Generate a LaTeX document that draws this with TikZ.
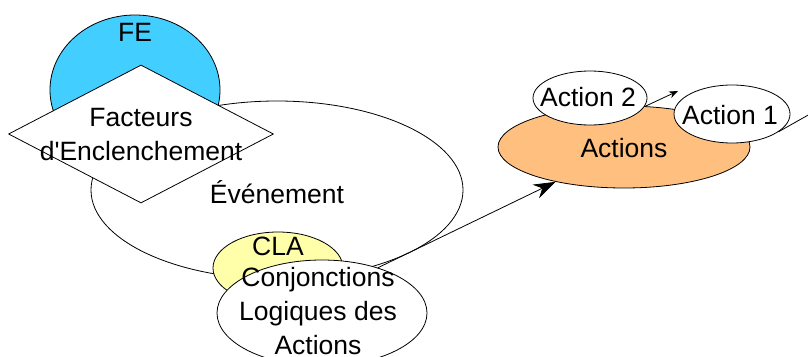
\documentclass[tikz,border=0pt]{standalone}
\usepackage{fontspec}
\setmainfont{Liberation Sans}
\usepackage{tikz}
\usetikzlibrary{arrows.meta,shapes.geometric}

\definecolor{azzurro}{RGB}{66,207,255}
\definecolor{giallino}{RGB}{255,255,170}
\definecolor{arancio}{RGB}{255,191,127}

\begin{document}
\begin{tikzpicture}[x=1pt, y=-1pt,
                % Forma ellittica vuota: il testo va in un nodo a parte
                ellisse/.style={
                    draw,
                    ellipse,
                    inner sep=0pt,
                    fill=white,
                    line width=0.8pt
                },
                % Rombo dei fattori
                rombo/.style={
                    draw,
                    diamond,
                    inner sep=0pt,
                    fill=white,
                    line width=0.8pt
                },
                % Stile dei testi
                testo/.style={
                    align=center,
                    inner sep=0pt,
                    font=\fontsize{26.5}{34}\selectfont
                },
                % Freccia grande verso le azioni
                freccia/.style={
                    -{Stealth[length=22pt, width=15pt]},
                    line width=0.8pt
                },
                % Freccia piccola tra le azioni
                freccina/.style={
                    -{Stealth[length=9pt, width=7pt]},
                    line width=0.8pt
                }
            ]

                \useasboundingbox (0,0) rectangle (808,356);

                % 1. Evento con FE e fattori d'innesco sopra
                \node [ellisse, minimum width=372pt, minimum height=178pt] (evento) at (277,190) {};
                \node [ellisse, fill=azzurro, minimum width=170pt, minimum height=150pt] (fe) at (135,90) {};
                \node [rombo, minimum width=265pt, minimum height=138pt] (fattori) at (141,134) {};
                \node [testo] (t-fe) at (135,32) {FE};
                \node [testo] (t-fattori) at (141,135) {Facteurs\\d\textquotesingle Enclenchement};
                \node [testo] (t-evento) at (277,192) {Événement};

                % 2. Congiunzioni logiche
                \node [ellisse, fill=giallino, minimum width=130pt, minimum height=72pt] (cla) at (278,268) {};
                \node [ellisse, minimum width=210pt, minimum height=106pt] (conj) at (322,313) {};
                \node [testo] (t-cla) at (278,246) {CLA};
                \node [testo] (t-conj) at (318,311) {Conjonctions\\Logiques des\\Actions};

                % 3. Azioni
                \node [ellisse, fill=arancio, minimum width=252pt, minimum height=82pt] (azioni) at (624,147) {};
                \node [ellisse, minimum width=114pt, minimum height=54pt] (azione2) at (590,98) {};
                \node [ellisse, minimum width=116pt, minimum height=58pt] (azione1) at (732,114) {};
                \node [testo] (t-azioni) at (624,148) {Actions};
                \node [testo] (t-azione2) at (588,97) {Action 2};
                \node [testo] (t-azione1) at (730,115) {Action 1};

                % 4. Collegamenti
                \draw [freccia] (conj.39) -- (azioni.207);
                \coordinate (punta2) at (678,91);
                \draw [freccina] (azione2.-9) -- (punta2);
                \coordinate (uscita) at (810,114);
                \draw [line width=0.8pt] (azione1.-21) -- (uscita);

            \end{tikzpicture}
\end{document}
